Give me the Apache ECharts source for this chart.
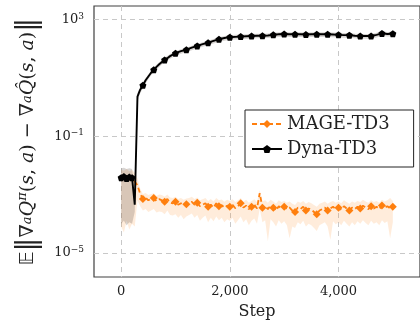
<!DOCTYPE html>
<html><head><meta charset="utf-8">
<script src="https://cdn.jsdelivr.net/npm/echarts@6/dist/echarts.min.js"></script>
<style>html,body{margin:0;padding:0;background:#fff}#c{width:420px;height:325px}</style>
</head><body><div id="c"></div>
<script>
// Values are log10 of the y quantity (axis drawn in powers of ten)
const mageSteps = [0,50,100,150,200,250,300,350,400,450,500,550,600,650,700,750,800,850,900,950,1000,1050,1100,1150,1200,1250,1300,1350,1400,1450,1500,1550,1600,1650,1700,1750,1800,1850,1900,1950,2000,2050,2100,2150,2200,2250,2300,2350,2400,2450,2500,2550,2600,2650,2700,2750,2800,2850,2900,2950,3000,3050,3100,3150,3200,3250,3300,3350,3400,3450,3500,3550,3600,3650,3700,3750,3800,3850,3900,3950,4000,4050,4100,4150,4200,4250,4300,4350,4400,4450,4500,4550,4600,4650,4700,4750,4800,4850,4900,4950,5000];
const mageLog10 = [-2.42,-2.45,-2.40,-2.48,-2.44,-2.55,-2.68,-2.98,-3.15,-3.10,-3.20,-3.14,-3.12,-3.22,-3.16,-3.20,-3.25,-3.15,-3.28,-3.30,-3.25,-3.35,-3.30,-3.38,-3.33,-3.30,-3.25,-3.35,-3.28,-3.40,-3.35,-3.30,-3.42,-3.35,-3.45,-3.30,-3.40,-3.36,-3.45,-3.38,-3.42,-3.35,-3.47,-3.40,-3.30,-3.45,-3.38,-3.50,-3.42,-3.35,-3.48,-2.95,-3.45,-3.40,-3.50,-3.38,-3.45,-3.55,-3.40,-3.48,-3.42,-3.50,-3.45,-3.55,-3.60,-3.45,-3.50,-3.42,-3.55,-3.48,-3.52,-3.60,-3.68,-3.55,-3.50,-3.45,-3.55,-3.48,-3.42,-3.50,-3.45,-3.52,-3.40,-3.48,-3.55,-3.45,-3.50,-3.42,-3.48,-3.38,-3.45,-3.50,-3.40,-3.48,-3.42,-3.50,-3.38,-3.45,-3.40,-3.48,-3.42];
const mageUpper = [-2.15,-2.18,-2.12,-2.20,-2.16,-2.25,-2.45,-2.80,-2.98,-2.95,-3.02,-2.98,-2.96,-3.05,-3.00,-3.02,-3.08,-3.00,-3.10,-3.12,-3.08,-3.15,-3.12,-3.18,-3.14,-3.12,-3.08,-3.15,-3.10,-3.20,-3.16,-3.12,-3.22,-3.15,-3.24,-3.12,-3.20,-3.17,-3.25,-3.18,-3.22,-3.16,-3.26,-3.20,-3.12,-3.25,-3.18,-3.28,-3.22,-3.16,-3.26,-2.85,-3.24,-3.20,-3.28,-3.18,-3.24,-3.32,-3.20,-3.26,-3.22,-3.28,-3.24,-3.32,-3.36,-3.24,-3.28,-3.22,-3.32,-3.26,-3.30,-3.36,-3.42,-3.32,-3.28,-3.24,-3.32,-3.26,-3.22,-3.28,-3.24,-3.30,-3.20,-3.26,-3.32,-3.24,-3.28,-3.22,-3.26,-3.18,-3.24,-3.28,-3.20,-3.26,-3.22,-3.28,-3.18,-3.24,-3.20,-3.12,-3.22];
const mageLower = [-4.10,-4.30,-3.90,-4.20,-4.00,-4.10,-3.20,-3.40,-3.55,-3.50,-3.60,-3.55,-3.50,-3.62,-3.58,-3.60,-3.68,-3.55,-3.70,-3.72,-3.68,-3.80,-3.70,-3.85,-3.75,-3.70,-3.65,-3.80,-3.70,-3.90,-3.80,-3.72,-3.95,-3.80,-3.92,-3.75,-3.88,-3.80,-3.95,-3.85,-3.90,-3.80,-4.00,-3.88,-3.75,-3.95,-3.85,-4.05,-3.90,-3.82,-4.00,-3.50,-3.95,-3.88,-4.60,-3.85,-3.95,-4.10,-3.88,-4.00,-3.92,-4.05,-4.50,-4.10,-4.15,-3.95,-4.02,-3.90,-4.10,-4.00,-4.05,-4.15,-4.25,-4.05,-4.00,-3.95,-4.10,-4.55,-3.92,-4.02,-3.95,-4.05,-3.90,-4.00,-4.10,-3.95,-4.05,-3.92,-4.00,-3.88,-3.98,-4.05,-3.90,-4.00,-3.95,-4.05,-3.88,-3.98,-3.92,-4.50,-3.95];

const dynaSteps = [0,50,100,150,200,250,300,350,400,450,500,550,600,650,700,750,800,850,900,950,1000,1100,1200,1300,1400,1500,1600,1700,1800,1900,2000,2100,2200,2300,2400,2500,2600,2700,2800,2900,3000,3100,3200,3300,3400,3500,3600,3700,3800,3900,4000,4100,4200,4300,4400,4500,4600,4700,4800,4900,5000];
const dynaLog10 = [-2.42,-2.38,-2.45,-2.40,-2.42,-3.35,0.36,0.60,0.75,0.92,1.05,1.18,1.28,1.38,1.47,1.55,1.62,1.68,1.75,1.80,1.85,1.92,1.97,2.04,2.10,2.16,2.21,2.27,2.33,2.37,2.40,2.41,2.42,2.43,2.44,2.45,2.45,2.46,2.48,2.50,2.51,2.50,2.50,2.50,2.49,2.50,2.50,2.50,2.50,2.49,2.48,2.47,2.47,2.45,2.44,2.44,2.44,2.48,2.53,2.51,2.52];
const dynaUpper = [-2.10,-2.08,-2.12,-2.10,-2.12,-2.70,0.48,0.70,0.84,1.00,1.12,1.25,1.35,1.45,1.54,1.62,1.69,1.75,1.82,1.87,1.92,1.99,2.04,2.11,2.17,2.23,2.28,2.34,2.40,2.44,2.47,2.48,2.49,2.50,2.51,2.52,2.52,2.53,2.55,2.57,2.58,2.57,2.57,2.57,2.56,2.57,2.57,2.57,2.57,2.56,2.55,2.54,2.54,2.52,2.51,2.51,2.51,2.55,2.60,2.58,2.59];
const dynaLower = [-4.00,-3.90,-4.05,-3.95,-4.00,-3.60,0.20,0.48,0.64,0.82,0.96,1.09,1.19,1.29,1.38,1.46,1.53,1.59,1.66,1.71,1.76,1.83,1.88,1.95,2.01,2.07,2.12,2.18,2.24,2.28,2.31,2.32,2.33,2.34,2.35,2.36,2.36,2.37,2.39,2.41,2.42,2.41,2.41,2.41,2.40,2.41,2.41,2.41,2.41,2.40,2.39,2.38,2.38,2.36,2.35,2.35,2.35,2.39,2.44,2.42,2.43];

const xTicks = [0, 2000, 4000];
const yTicks = [-5, -1, 3]; // exponents: 10^-5, 10^-1, 10^3

const F = 'DejaVu Serif';
const pair = (xs, ys) => xs.map((x, i) => [x, ys[i]]);
const triple = (xs, lo, hi) => xs.map((x, i) => [x, lo[i], hi[i]]);

function bandSeries(name, xs, lo, hi, fill, z) {
  return {
    name: name, type: 'custom', z: z, silent: true,
    data: triple(xs, lo, hi),
    encode: {x: 0, y: [1, 2]},
    renderItem: function (params, api) {
      if (params.dataIndex !== 0) return null;
      const top = xs.map((x, i) => api.coord([x, hi[i]]));
      const bot = xs.map((x, i) => api.coord([x, lo[i]])).reverse();
      return {type: 'polygon', shape: {points: top.concat(bot)}, style: {fill: fill}};
    }
  };
}

const chart = echarts.init(document.getElementById('c'), null, {renderer: 'canvas'});
const pentagon = 'path://M0,-1L0.951,-0.309L0.588,0.809L-0.588,0.809L-0.951,-0.309Z';

chart.setOption({
  animation: false,
  backgroundColor: '#fff',
  textStyle: {fontFamily: F},
  grid: {left: 94, width: 330, top: 6, bottom: 47, show: true, borderColor: '#404040', borderWidth: 1.2, backgroundColor: 'transparent'},
  xAxis: {
    type: 'value', min: -500, max: 5500,
    name: 'Step', nameLocation: 'middle', nameGap: 27,
    nameTextStyle: {fontFamily: F, fontSize: 16, color: '#222'},
    axisLine: {show: false}, axisTick: {show: false, customValues: xTicks},
    axisLabel: {customValues: xTicks, fontFamily: F, fontSize: 13, color: '#222', margin: 8,
      formatter: v => v.toLocaleString('en-US')},
    splitLine: {show: true, lineStyle: {color: '#c8c8c8', type: [5, 4], width: 1}}
  },
  yAxis: {
    type: 'value', min: -5.83, max: 3.47,
    name: '{e|𝔼}{d|‖}{r|∇}{sb|a}{i|Q}{sp|π}{r|(}{i|s}{r|, }{i|a}{r|) − ∇}{sb|a}{i|Q̂}{r|(}{i|s}{r|, }{i|a}{r|)}{d|‖}',
    nameLocation: 'middle', nameGap: 52, nameRotate: 90,
    nameTextStyle: {
      color: '#222',
      rich: {
        e: {fontFamily: 'DejaVu Sans', fontSize: 19, color: '#222'},
        d: {fontFamily: F, fontSize: 28, color: '#222'},
        r: {fontFamily: F, fontSize: 19, color: '#222'},
        i: {fontFamily: F, fontSize: 19, fontStyle: 'italic', color: '#222'},
        sb: {fontFamily: F, fontSize: 13, fontStyle: 'italic', color: '#222'},
        sp: {fontFamily: F, fontSize: 13, fontStyle: 'italic', color: '#222', padding: [0, 0, 10, 0]}
      }
    },
    axisLine: {show: false}, axisTick: {show: false, customValues: yTicks},
    axisLabel: {customValues: yTicks, margin: 10,
      formatter: v => '{b|10}{s|' + String(v).replace('-', '−') + '}',
      rich: {
        b: {fontFamily: F, fontSize: 13, color: '#222'},
        s: {fontFamily: F, fontSize: 9, color: '#222', padding: [0, 0, 7, 0]}
      }},
    splitLine: {show: true, lineStyle: {color: '#c8c8c8', type: [5, 4], width: 1}}
  },
  legend: {
    data: ['MAGE-TD3', 'Dyna-TD3'], orient: 'vertical', left: 245, top: 110,
    padding: [5, 24, 9, 6], itemGap: 7, itemWidth: 30, itemHeight: 10,
    borderColor: '#222', borderWidth: 1, backgroundColor: '#fff', borderRadius: 0,
    textStyle: {fontFamily: F, fontSize: 18, color: '#222'}
  },
  series: [
    bandSeries('mageBand', mageSteps, mageLower, mageUpper, 'rgba(255,140,40,0.17)', 1),
    bandSeries('dynaBand', dynaSteps, dynaLower, dynaUpper, 'rgba(90,80,70,0.24)', 2),
    {name: 'MAGE-TD3', type: 'line', data: pair(mageSteps, mageLog10), z: 3,
      color: '#ff7f0e', lineStyle: {color: '#ff7f0e', width: 1.8, type: [5, 3]},
      symbol: 'diamond', showAllSymbol: true,
      symbolSize: (v, p) => (p.dataIndex >= 8 && p.dataIndex % 4 === 0) ? 8 : 0,
      itemStyle: {color: '#ff7f0e'}},
    {name: 'Dyna-TD3', type: 'line', data: pair(dynaSteps, dynaLog10), z: 4,
      color: '#000', lineStyle: {color: '#000', width: 1.9},
      symbol: pentagon, showAllSymbol: true,
      symbolSize: (v, p) => (p.dataIndex <= 4 || (p.dataIndex >= 8 && p.dataIndex <= 20 && p.dataIndex % 4 === 0) || (p.dataIndex > 20 && p.dataIndex % 2 === 0)) ? 7 : 0,
      itemStyle: {color: '#000'}}
  ]
});
</script></body></html>
